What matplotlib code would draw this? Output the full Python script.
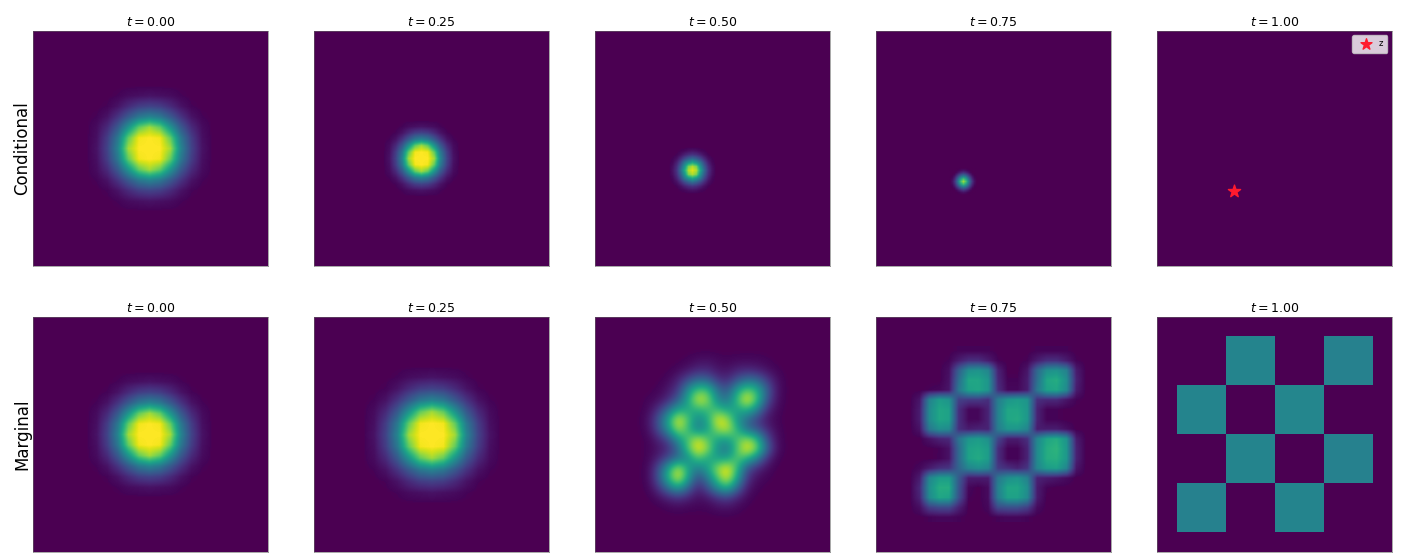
import numpy as np
import matplotlib
matplotlib.use('Agg')
import matplotlib.pyplot as plt
from matplotlib.colors import LinearSegmentedColormap

times = [0.00, 0.25, 0.50, 0.75, 1.00]
row_names = ['Conditional', 'Marginal']
z_point = [-1.63, -1.76]

# one quadrant of each round blob, centre at top left, density in percent
blob_wide = [
    [100, 100, 86, 45, 20, 5, 0],
    [100, 98, 76, 40, 18, 4, 0],
    [86, 76, 52, 28, 12, 3, 0],
    [45, 40, 28, 15, 5, 1, 0],
    [20, 18, 12, 5, 1, 0, 0],
    [5, 4, 3, 1, 0, 0, 0],
    [0, 0, 0, 0, 0, 0, 0],
]
blob_mid = [
    [95, 88, 60, 35, 15, 5, 0],
    [88, 80, 52, 30, 13, 4, 0],
    [60, 52, 40, 22, 9, 2, 0],
    [35, 30, 22, 12, 4, 1, 0],
    [15, 13, 9, 4, 1, 0, 0],
    [5, 4, 2, 1, 0, 0, 0],
    [0, 0, 0, 0, 0, 0, 0],
]
blob_small = [
    [85, 72, 50, 30, 14, 4, 0],
    [72, 62, 44, 26, 11, 3, 0],
    [50, 44, 32, 18, 7, 1, 0],
    [30, 26, 18, 9, 2, 0, 0],
    [14, 11, 7, 2, 0, 0, 0],
    [4, 3, 1, 0, 0, 0, 0],
    [0, 0, 0, 0, 0, 0, 0],
]

# marginal t=0.50, seen on a coarse grid
marginal_050 = [
    [0] * 16,
    [0, 0, 0, 0, 0, 1, 3, 4, 2, 1, 2, 2, 2, 1, 0, 0],
    [0, 0, 0, 0, 2, 5, 10, 10, 5, 4, 8, 10, 8, 4, 1, 0],
    [0, 0, 0, 2, 8, 20, 30, 28, 14, 10, 22, 32, 30, 16, 4, 0],
    [0, 0, 1, 5, 14, 42, 62, 60, 32, 22, 48, 65, 55, 28, 5, 0],
    [0, 1, 3, 10, 25, 50, 80, 72, 40, 32, 58, 85, 62, 24, 4, 0],
    [0, 2, 12, 30, 50, 50, 55, 58, 58, 50, 48, 55, 40, 12, 2, 0],
    [0, 4, 22, 50, 82, 62, 38, 50, 82, 75, 45, 30, 16, 5, 1, 0],
    [0, 3, 20, 45, 75, 58, 35, 48, 72, 78, 55, 30, 22, 10, 2, 0],
    [0, 1, 8, 20, 45, 60, 78, 62, 50, 48, 60, 72, 58, 22, 3, 0],
    [0, 1, 4, 10, 28, 62, 85, 72, 42, 32, 62, 85, 70, 30, 4, 0],
    [0, 1, 8, 20, 32, 40, 62, 50, 48, 48, 62, 55, 38, 12, 1, 0],
    [0, 2, 20, 50, 78, 50, 35, 48, 72, 85, 58, 22, 10, 3, 0, 0],
    [0, 2, 22, 55, 82, 50, 18, 35, 62, 82, 50, 14, 3, 1, 0, 0],
    [0, 1, 12, 32, 48, 28, 8, 20, 42, 55, 30, 6, 1, 0, 0, 0],
    [0, 0, 3, 8, 12, 8, 3, 5, 12, 16, 8, 2, 0, 0, 0, 0],
    [0, 0, 0, 1, 2, 1, 1, 1, 3, 4, 2, 0, 0, 0, 0, 0],
    [0] * 16,
]

# marginal t=0.75, same cell size
marginal_075 = [
    [0, 0, 0, 0, 0, 1, 1, 1, 1, 0, 0, 0, 0, 1, 1, 1, 1, 0, 0],
    [0, 0, 0, 0, 1, 8, 14, 14, 8, 1, 0, 0, 1, 8, 14, 14, 8, 1, 0],
    [0, 0, 0, 0, 4, 32, 52, 54, 48, 10, 0, 0, 6, 35, 52, 54, 46, 8, 0],
    [0, 0, 0, 0, 5, 38, 62, 62, 55, 12, 1, 1, 8, 38, 62, 65, 52, 10, 0],
    [0, 0, 1, 2, 6, 42, 60, 62, 55, 14, 2, 2, 8, 42, 60, 62, 50, 8, 0],
    [0, 6, 46, 58, 54, 20, 18, 18, 14, 44, 55, 58, 54, 14, 12, 12, 6, 1, 0],
    [0, 8, 50, 62, 60, 14, 2, 2, 10, 46, 62, 62, 56, 10, 1, 1, 0, 0, 0],
    [0, 8, 50, 62, 60, 14, 2, 2, 10, 46, 62, 64, 56, 10, 1, 1, 0, 0, 0],
    [0, 5, 42, 52, 50, 14, 8, 10, 10, 44, 55, 55, 48, 8, 8, 8, 4, 0, 0],
    [0, 0, 5, 10, 12, 40, 55, 58, 52, 22, 8, 8, 14, 48, 62, 65, 54, 8, 0],
    [0, 0, 0, 1, 5, 36, 60, 62, 58, 14, 1, 1, 10, 50, 65, 68, 56, 10, 0],
    [0, 0, 0, 1, 5, 36, 60, 64, 58, 14, 1, 1, 10, 50, 65, 66, 56, 10, 0],
    [0, 2, 8, 14, 16, 34, 48, 52, 48, 18, 14, 10, 16, 48, 58, 60, 48, 6, 0],
    [0, 8, 48, 58, 58, 30, 8, 8, 8, 42, 52, 55, 46, 10, 8, 6, 3, 0, 0],
    [0, 12, 52, 65, 65, 28, 2, 0, 3, 46, 62, 62, 52, 8, 1, 0, 0, 0, 0],
    [0, 10, 50, 62, 60, 26, 1, 0, 3, 44, 60, 60, 50, 8, 0, 0, 0, 0, 0],
    [0, 4, 20, 24, 24, 10, 0, 0, 2, 24, 26, 26, 20, 3, 0, 0, 0, 0, 0],
    [0, 0, 1, 2, 2, 1, 0, 0, 0, 1, 2, 2, 1, 0, 0, 0, 0, 0, 0],
]

# marginal t=1.00, one value per checker square
marginal_100 = [
    [0, 45, 0, 44],
    [45, 0, 46, 0],
    [0, 45, 0, 44],
    [44, 0, 45, 0],
]


def mirror(quadrant):
    q = np.array(quadrant)
    full = np.vstack([q[:0:-1], q])
    return np.hstack([full[:, :0:-1], full])


def blob_box(cx, cy, cell):
    half = 6.5 * cell
    return (cx - half, cx + half, cy - half, cy + half)


W, H = 1416, 560
lefts = [33, 314, 595, 876, 1157]
tops = [31, 317]
size = 234.5
lim = 4.8

# viridis, with the slightly redder empty-cell purple of the picture
base = plt.get_cmap('viridis')
steps = np.linspace(0, 1, 256)
cmap_colors = base(steps)
cmap_colors[0] = matplotlib.colors.to_rgba('#4b0052')
cmap_colors[1] = matplotlib.colors.to_rgba('#490154')
cmap = LinearSegmentedColormap.from_list('viridis_bg', cmap_colors)

fig = plt.figure(figsize=(W / 100, H / 100), dpi=100)
axes = [[fig.add_axes([x / W, 1 - (y + size) / H, size / W, size / H]) for x in lefts] for y in tops]

panels = {
    (0, 0): (mirror(blob_wide), blob_box(-0.04, 0.0, 0.43), 'bilinear', 100),
    (0, 1): (mirror(blob_wide), blob_box(-0.41, -0.41, 0.26), 'bilinear', 100),
    (0, 2): (mirror(blob_mid), blob_box(-0.82, -0.90, 0.16), 'bilinear', 100),
    (0, 3): (mirror(blob_small), blob_box(-1.21, -1.35, 0.09), 'bilinear', 100),
    (1, 0): (mirror(blob_wide), blob_box(-0.04, 0.0, 0.43), 'bilinear', 100),
    (1, 1): (mirror(blob_wide), blob_box(0.0, -0.04, 0.47), 'bilinear', 100),
    (1, 2): (np.array(marginal_050), (-3.2, 3.2, -3.6, 3.6), 'bicubic', 85),
    (1, 3): (np.array(marginal_075), (-3.6, 4.0, -3.6, 3.6), 'bilinear', 105),
    (1, 4): (np.array(marginal_100), (-4, 4, -4, 4), 'nearest', 100),
}

for r in range(2):
    for c in range(5):
        ax = axes[r][c]
        ax.set_facecolor(cmap(0.0))
        if (r, c) in panels:
            img, box, interp, top = panels[(r, c)]
            ax.imshow(img, extent=box, cmap=cmap, vmin=0, vmax=top, interpolation=interp, aspect='auto')
        ax.set_xlim(-lim, lim)
        ax.set_ylim(-lim, lim)
        ax.set_xticks([])
        ax.set_yticks([])
        for s in ax.spines.values():
            s.set_linewidth(0.4)
            s.set_color('#666666')
        ax.set_title('$t={:.2f}$'.format(times[c]), fontsize=9, pad=3.5)
    axes[r][0].set_ylabel(row_names[r], fontsize=12, labelpad=1)

ax = axes[0][4]
ax.scatter([z_point[0]], [z_point[1]], marker='*', s=85, color='#ff1a2e', label='z', zorder=3)
ax.legend(loc='upper right', fontsize=6, borderaxespad=0.5, borderpad=0.5, handlelength=2.3,
          handletextpad=0.4, markerscale=0.9)

fig.savefig('out.png', dpi=100)
